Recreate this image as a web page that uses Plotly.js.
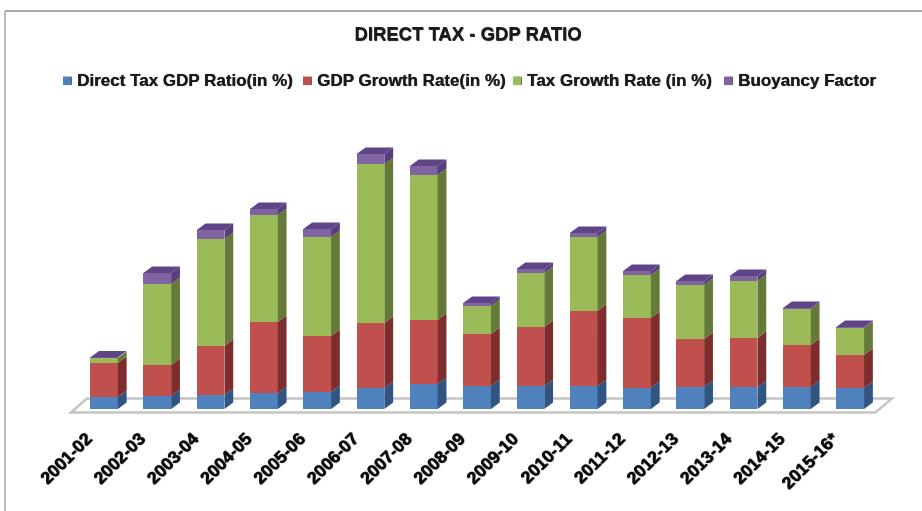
<!DOCTYPE html>
<html><head><meta charset="utf-8">
<script src="https://cdn.plot.ly/plotly-3.0.1.min.js"></script>
<style>html,body{margin:0;padding:0;background:#fff}#c{width:922px;height:511px;filter:blur(0.55px)}</style>
</head><body><div id="c"></div>
<script>
const years = ["2001-02","2002-03","2003-04","2004-05","2005-06","2006-07","2007-08","2008-09","2009-10","2010-11","2011-12","2012-13","2013-14","2014-15","2015-16*"];
const directTaxRatio = [3.0,3.25,3.5,4,4.25,5.25,6.25,5.75,5.75,5.75,5.25,5.5,5.5,5.5,5.25];
const gdpGrowth = [8.5,7.75,12.25,17.75,14,16.25,16,13,14.75,18.75,17.5,12,12.25,10.5,8.25];
const taxGrowth = [1.25,20.25,26.75,26.75,24.75,39.75,36.25,7,13.5,18.5,10.75,13.5,14.25,9,6.75];
const buoyancy = [0.15,2.75,2.25,1.5,2,2.5,2.25,0.75,1,1,1,1,1.25,0.25,0.25];
const seriesNames = ["Direct Tax GDP Ratio(in %)","GDP Growth Rate(in %)","Tax Growth Rate (in %)","Buoyancy Factor"];
const frontColors = ["#4f81bd","#c0504d","#9bbb59","#8064a2"];
const sideColors = ["#2f5580","#7d2e2c","#637a38","#573f7c"];
const topColor = "#5f4488";
const seriesValues = [directTaxRatio,gdpGrowth,taxGrowth,buoyancy];

const W = 0.52, DX = 0.165, DY = 1.6;
const xs = years.map((_, i) => i);
const traces = [];
const cum = years.map(() => 0);
seriesValues.forEach((vals, s) => {
  traces.push({type:"bar", x:xs, y:vals, width:W, name:seriesNames[s], marker:{color:frontColors[s],line:{width:0}}, showlegend:false, hoverinfo:"y+name"});
  const px = [], py = [];
  vals.forEach((v, i) => {
    const r = i + W/2, lo = cum[i], hi = lo + v;
    px.push(r, r+DX, r+DX, r, r, null);
    py.push(lo, lo+DY, hi+DY, hi, lo, null);
    cum[i] = hi;
  });
  traces.push({type:"scatter", mode:"lines", x:px, y:py, fill:"toself", fillcolor:sideColors[s], line:{width:0,color:sideColors[s]}, showlegend:false, hoverinfo:"skip"});
});
const tx = [], ty = [];
cum.forEach((h, i) => {
  const l = i - W/2, r = i + W/2;
  tx.push(l, r, r+DX, l+DX, l, null);
  ty.push(h, h, h+DY, h+DY, h, null);
});
traces.push({type:"scatter", mode:"lines", x:tx, y:ty, fill:"toself", fillcolor:topColor, line:{width:0,color:topColor}, showlegend:false, hoverinfo:"skip"});

const plotH = 416;
const legendX = [60,300,510,721];
const textShadow = "0.4px 0.4px 0.7px #222";
const annotations = seriesNames.map((n, s) => ({
  xref:"paper", yref:"paper", x:legendX[s]/922, y:1-80/plotH, xanchor:"left", yanchor:"middle", showarrow:false,
  text:`<span style="color:${frontColors[s]};font-size:17px">■</span> ${n}`,
  font:{family:"Liberation Sans, Arial, sans-serif", size:17, color:"#1a1a1a", weight:700, shadow:textShadow}
}));

const floorPath = "M -0.62 -0.9 L 14.47 -0.9 L 14.78 2.6 L -0.32 2.6 Z";
const layout = {
  width:922, height:511, margin:{l:0,r:0,t:0,b:95}, paper_bgcolor:"#fff", plot_bgcolor:"rgba(0,0,0,0)",
  barmode:"stack", showlegend:false,
  title:{text:"DIRECT TAX - GDP RATIO", x:468/922, y:1-34/511, xref:"paper", yref:"container", xanchor:"center", yanchor:"middle",
    font:{family:"Liberation Sans, Arial, sans-serif", size:18.5, color:"#1a1a1a", weight:700, shadow:textShadow}},
  xaxis:{range:[-1.951,15.347], tickmode:"array", tickvals:xs.map(i => i - 0.33), ticktext:years, tickangle:-45, showgrid:false, zeroline:false, showline:false, ticks:"", ticklabelstandoff:8,
    tickfont:{family:"Liberation Sans, Arial, sans-serif", size:17.5, color:"#0a0a0a", weight:700, shadow:"0.7px 0.7px 0.9px #000"}},
  yaxis:{visible:false, range:[-1.75,102.25], fixedrange:true},
  annotations,
  shapes:[
    {type:"path", xref:"x", yref:"y", path:floorPath, fillcolor:"#fff", line:{color:"#c4c4c4",width:2.5}, layer:"below"},
    {type:"line", xref:"paper", yref:"paper", x0:5/922, x1:1, y0:1-11/plotH, y1:1-11/plotH, line:{color:"#8c8c8c",width:1.5}},
    {type:"line", xref:"paper", yref:"paper", x0:5/922, x1:5/922, y0:1-11/plotH, y1:-95/plotH, line:{color:"#a8a8a8",width:1.5}}
  ]
};
Plotly.newPlot("c", traces, layout, {displayModeBar:false, staticPlot:true});
</script></body></html>
